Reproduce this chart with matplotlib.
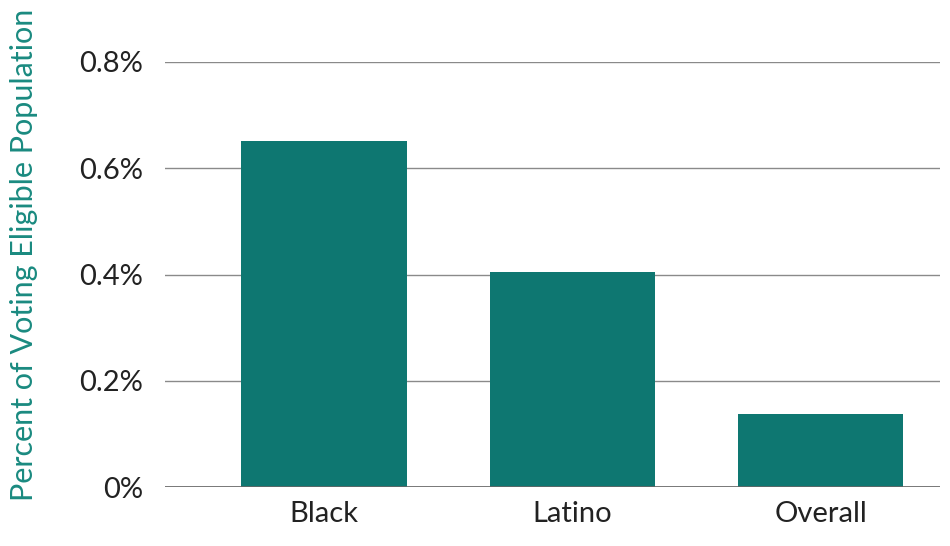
import matplotlib.pyplot as plt

categories = ["Black", "Latino", "Overall"]
values = [0.652, 0.405, 0.138]
ticks = [0, 0.2, 0.4, 0.6, 0.8]
tick_labels = ["0%", "0.2%", "0.4%", "0.6%", "0.8%"]

plt.rcParams['font.family'] = ['Lato', 'DejaVu Sans']

fig = plt.figure(figsize=(9.5, 5.46), dpi=100)
ax = fig.add_axes([165/950, 1 - 487/546, 775/950, 425/546])

x = range(len(categories))
ax.bar(x, values, width=0.665, color='#0e7771', zorder=3)

ax.set_xlim(-0.64, 2.48)
ax.set_ylim(0, 0.8)
ax.set_yticks(ticks)
ax.set_yticklabels(tick_labels, fontsize=21, color='#222222')
ax.set_xticks(list(x))
ax.set_xticklabels(categories, fontsize=21, color='#222222')
ax.tick_params(axis='both', length=0)
ax.tick_params(axis='y', pad=16)
ax.tick_params(axis='x', pad=10)

ax.grid(axis='y', color='#8a8a8a', linewidth=1, zorder=0)
for sp in ax.spines.values():
    sp.set_visible(False)
ax.axhline(0, color='#666666', linewidth=1.2, zorder=4)

fig.text(24/950, 1 - 255/546, 'Percent of Voting Eligible Population',
         rotation=90, fontsize=22, color='#1a8a80', ha='center', va='center')

fig.savefig('out.png', dpi=100)
